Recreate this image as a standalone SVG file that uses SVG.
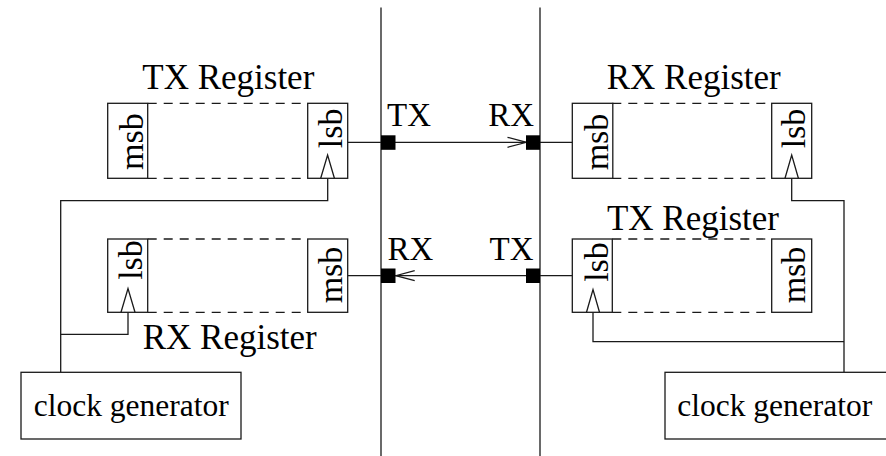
<svg xmlns="http://www.w3.org/2000/svg" width="886" height="456" viewBox="0 0 886 456">
<defs>
<style>
.ln{fill:none;stroke:#1a1a1a;stroke-width:1.3}
.box{fill:#fff;stroke:#1a1a1a;stroke-width:1.3}
.dash{fill:none;stroke:#1a1a1a;stroke-width:1.3;stroke-dasharray:9 7}
.port{fill:#000;stroke:none}
.t{font-family:"Liberation Serif","Times New Roman",serif;fill:#000}
.lbl{font-size:35px;text-anchor:middle}
.bit{font-size:34px;text-anchor:middle}
.pl{font-size:33px}
.clk{font-size:31.5px;text-anchor:middle}
</style>
<marker id="chev" markerUnits="userSpaceOnUse" markerWidth="24" markerHeight="14" viewBox="-21 -7 24 14" refX="0" refY="0" orient="auto">
<path d="M-19,-5 L0,0 L-19,5" fill="none" stroke="#1a1a1a" stroke-width="1.2"/>
</marker>
</defs>
<rect width="886" height="456" fill="#fff"/>

<g id="bus">
<line class="ln" x1="381" y1="7.5" x2="381" y2="456"/>
<line class="ln" x1="540" y1="7.5" x2="540" y2="456"/>
</g>

<g id="connectors">
<path class="ln" d="M347.7,142.3 H526.5" marker-end="url(#chev)"/>
<path class="ln" d="M526.5,142.3 H572.3"/>
<path class="ln" d="M572.3,275.7 H395.7" marker-end="url(#chev)"/>
<path class="ln" d="M395.7,275.7 H347.7"/>
<path class="ln" d="M327.7,178.3 V200.7 H60.7 V372.3"/>
<path class="ln" d="M128,312.3 V334.3 H60.7"/>
<path class="ln" d="M791.7,178.3 V200.7 H844 V372.3"/>
<path class="ln" d="M593,312.3 V341.7 H844"/>
</g>

<g id="ports">
<rect class="port" x="381" y="135.3" width="14.5" height="14.5"/>
<rect class="port" x="526" y="135.3" width="14" height="14.5"/>
<rect class="port" x="381" y="268.5" width="14.5" height="14.5"/>
<rect class="port" x="526" y="268.5" width="14" height="14.5"/>
<text class="t pl" x="387" y="126">TX</text>
<text class="t pl" x="534" y="126" text-anchor="end">RX</text>
<text class="t pl" x="387.5" y="260">RX</text>
<text class="t pl" x="533.5" y="260" text-anchor="end">TX</text>
</g>

<g id="tx_register_left">
<text class="t lbl" x="228.3" y="89">TX Register</text>
<line class="dash" x1="147.7" y1="103.3" x2="307.7" y2="103.3"/>
<line class="dash" x1="147.7" y1="178.3" x2="307.7" y2="178.3"/>
<rect class="box" x="107.7" y="103.3" width="40" height="75"/>
<rect class="box" x="307.7" y="103.3" width="40" height="75"/>
<text class="t bit" transform="translate(142.7,141.7) rotate(-90)">msb</text>
<text class="t bit" transform="translate(341.5,128.3) rotate(-90)">lsb</text>
<polyline class="ln" points="320.7,178.3 327.6,155 334.4,178.3"/>
</g>

<g id="rx_register_left">
<text class="t lbl" x="229.7" y="349">RX Register</text>
<line class="dash" x1="147.7" y1="239" x2="307.7" y2="239"/>
<line class="dash" x1="147.7" y1="312.3" x2="307.7" y2="312.3"/>
<rect class="box" x="107.7" y="239" width="40" height="73.3"/>
<rect class="box" x="307.7" y="239" width="40" height="73.3"/>
<text class="t bit" transform="translate(141.5,260) rotate(-90)">lsb</text>
<text class="t bit" transform="translate(341.5,275) rotate(-90)">msb</text>
<polyline class="ln" points="121,312.3 128,288.5 135,312.3"/>
</g>

<g id="rx_register_right">
<text class="t lbl" x="693.7" y="89.3">RX Register</text>
<line class="dash" x1="612.3" y1="103.3" x2="771.7" y2="103.3"/>
<line class="dash" x1="612.3" y1="178.3" x2="771.7" y2="178.3"/>
<rect class="box" x="572.3" y="103.3" width="40.5" height="75"/>
<rect class="box" x="771.7" y="103.3" width="40" height="75"/>
<text class="t bit" transform="translate(608,142) rotate(-90)">msb</text>
<text class="t bit" transform="translate(805.2,128.5) rotate(-90)">lsb</text>
<polyline class="ln" points="785,178.3 791.7,155 798.4,178.3"/>
</g>

<g id="tx_register_right">
<text class="t lbl" x="693" y="230">TX Register</text>
<line class="dash" x1="612.3" y1="239" x2="771.7" y2="239"/>
<line class="dash" x1="612.3" y1="312.3" x2="771.7" y2="312.3"/>
<rect class="box" x="572.3" y="239" width="40" height="73.3"/>
<rect class="box" x="771.7" y="239" width="40" height="73.3"/>
<text class="t bit" transform="translate(608,262) rotate(-90)">lsb</text>
<text class="t bit" transform="translate(805,275) rotate(-90)">msb</text>
<polyline class="ln" points="586.5,312.3 593,289.5 599.5,312.3"/>
</g>

<g id="clock_generator_left">
<rect class="box" x="21" y="372.3" width="220" height="66.7"/>
<text class="t clk" x="131.3" y="416">clock generator</text>
</g>

<g id="clock_generator_right">
<rect class="box" x="665" y="372.3" width="230" height="66.7"/>
<text class="t clk" x="774.7" y="416">clock generator</text>
</g>
</svg>
